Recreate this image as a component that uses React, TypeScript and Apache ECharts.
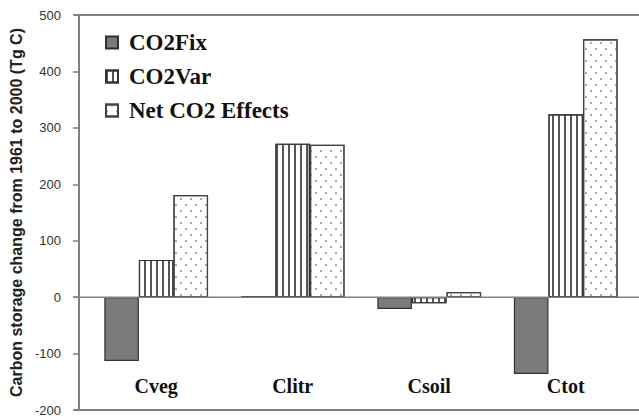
import React, { useEffect, useRef } from "react";
import * as echarts from "echarts";

const categories = ["Cveg", "Clitr", "Csoil", "Ctot"];
const co2Fix = [-113, 2, -21, -136];
const co2Var = [66, 272, -11, 324];
const netCO2 = [181, 270, 9, 457];
const yTicks = { min: -200, max: 500, interval: 100 };

export default function App() {
  const ref = useRef<HTMLDivElement>(null);
  useEffect(() => {
    if (!ref.current) return;
    const chart = echarts.init(ref.current, null, { renderer: "svg" });
    const serif = "'Liberation Serif', 'Times New Roman', serif";
    const sans = "'Liberation Sans', Arial, sans-serif";
    chart.setOption({
      animation: false,
      backgroundColor: "#ffffff",
      grid: { left: 83, right: 5, top: 15, bottom: 9, containLabel: false },
      legend: {
        orient: "vertical",
        left: 100,
        top: 26,
        icon: "rect",
        itemWidth: 12,
        itemHeight: 12,
        itemGap: 11,
        textStyle: {
          fontFamily: serif,
          fontWeight: "bold",
          fontSize: 23,
          color: "#111",
          padding: [0, 0, 0, 6],
        },
        data: ["CO2Fix", "CO2Var", "Net CO2 Effects"],
      },
      xAxis: {
        type: "category",
        data: categories,
        axisLine: { show: false },
        axisTick: { show: false },
        axisLabel: {
          inside: true,
          margin: 14,
          fontFamily: serif,
          fontWeight: "bold",
          fontSize: 20,
          color: "#111",
        },
        splitLine: { show: false },
      },
      yAxis: {
        type: "value",
        min: yTicks.min,
        max: yTicks.max,
        interval: yTicks.interval,
        offset: 9,
        name: "Carbon storage change from 1961 to 2000 (Tg C)",
        nameLocation: "middle",
        nameGap: 53,
        nameRotate: 90,
        nameTextStyle: {
          fontFamily: sans,
          fontWeight: "bold",
          fontSize: 16,
          color: "#222",
        },
        axisLine: { show: true, lineStyle: { color: "#808080", width: 2 } },
        axisTick: { show: true, length: 6, lineStyle: { color: "#808080", width: 1.5 } },
        axisLabel: {
          margin: 18,
          fontFamily: sans,
          fontSize: 13,
          color: "#333",
        },
        splitLine: { show: false },
      },
      series: [
        {
          name: "CO2Fix",
          type: "bar",
          data: co2Fix,
          barGap: "0%",
          barCategoryGap: "24%",
          itemStyle: { color: "#7b7b7b", borderColor: "#333", borderWidth: 1.2 },
        },
        {
          name: "CO2Var",
          type: "bar",
          data: co2Var,
          barGap: "0%",
          barCategoryGap: "24%",
          itemStyle: {
            color: "#ffffff",
            borderColor: "#333",
            borderWidth: 1.2,
            decal: {
              symbol: "rect",
              symbolSize: 1,
              color: "#555",
              dashArrayX: [1.6, 3.4],
              dashArrayY: [10, 0],
              rotation: 0,
            },
          },
        },
        {
          name: "Net CO2 Effects",
          type: "bar",
          data: netCO2,
          barGap: "0%",
          barCategoryGap: "24%",
          itemStyle: {
            color: "#ffffff",
            borderColor: "#444",
            borderWidth: 1.2,
            decal: {
              symbol: "rect",
              symbolSize: 1,
              color: "#a8a8a8",
              dashArrayX: [[1.5, 7.5], [0, 4.5, 1.5, 3]],
              dashArrayY: [1.5, 3.5],
              rotation: 0,
            },
          },
        },
      ],
    });
    const yTop = chart.convertToPixel({ yAxisIndex: 0 }, yTicks.max) as number;
    const yBot = chart.convertToPixel({ yAxisIndex: 0 }, yTicks.min) as number;
    const yZero = chart.convertToPixel({ yAxisIndex: 0 }, 0) as number;
    const x0 = 74;
    const x1 = 639;
    chart.setOption({
      graphic: [
        { type: "line", shape: { x1: x0, y1: yTop, x2: x1, y2: yTop }, style: { stroke: "#808080", lineWidth: 2 }, z: 10 },
        { type: "line", shape: { x1: x0, y1: yBot, x2: x1, y2: yBot }, style: { stroke: "#808080", lineWidth: 2 }, z: 10 },
        { type: "line", shape: { x1: x0, y1: yZero, x2: x1, y2: yZero }, style: { stroke: "#808080", lineWidth: 1.5 }, z: 10 },
      ],
    });
    return () => chart.dispose();
  }, []);
  return (
    <div
      ref={ref}
      style={{ position: "fixed", left: 0, top: 0, width: 639, height: 419 }}
    />
  );
}
